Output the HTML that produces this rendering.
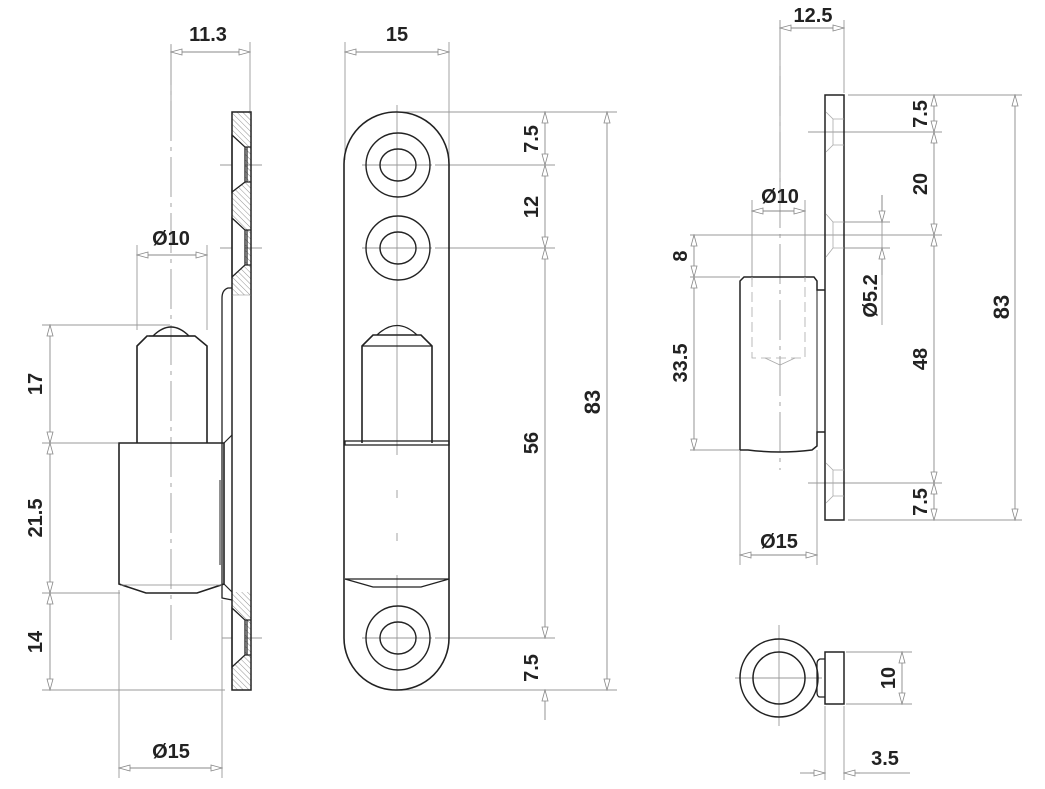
<!DOCTYPE html>
<html><head><meta charset="utf-8"><style>
html,body{margin:0;padding:0;background:#fff;}
svg{display:block;}
text{font-family:"Liberation Sans","DejaVu Sans",sans-serif;font-weight:bold;font-size:20px;fill:#222;}
</style></head><body>
<svg width="1045" height="789" viewBox="0 0 1045 789" xmlns="http://www.w3.org/2000/svg">
<defs>
<marker id="a" markerUnits="userSpaceOnUse" markerWidth="13" markerHeight="8" refX="12" refY="4" orient="auto-start-reverse">
<path d="M1,1 L12,4 L1,7 z" fill="#fff" stroke="#888" stroke-width="0.8"/>
</marker>
<pattern id="h" patternUnits="userSpaceOnUse" width="4" height="4" patternTransform="rotate(-45)">
<line x1="0" y1="0" x2="0" y2="4" stroke="#777" stroke-width="0.8"/>
</pattern>
</defs>
<rect width="1045" height="789" fill="#fff"/>

<!-- ===== LEFT VIEW ===== -->
<g fill="none" stroke="#999" stroke-width="0.9">
<line x1="171" y1="45" x2="171" y2="640" stroke-dasharray="40,6,4,6"/>
<line x1="171" y1="44" x2="171" y2="120"/>
<line x1="250" y1="42" x2="250" y2="112"/>
<line x1="137" y1="245" x2="137" y2="330"/>
<line x1="207" y1="245" x2="207" y2="330"/>
<line x1="119" y1="590" x2="119" y2="778"/>
<line x1="222" y1="600" x2="222" y2="778"/>
<line x1="42" y1="325" x2="170" y2="325"/>
<line x1="42" y1="443" x2="118" y2="443"/>
<line x1="42" y1="593" x2="120" y2="593"/>
<line x1="42" y1="690" x2="225" y2="690"/>
<line x1="220" y1="165" x2="262" y2="165"/>
<line x1="220" y1="248" x2="262" y2="248"/>
<line x1="222" y1="638" x2="262" y2="638"/>
</g>
<g stroke="#888" stroke-width="0.9" marker-start="url(#a)" marker-end="url(#a)">
<line x1="171" y1="52" x2="250" y2="52"/>
<line x1="137" y1="255" x2="207" y2="255"/>
<line x1="119" y1="768" x2="222" y2="768"/>
<line x1="50" y1="325" x2="50" y2="443"/>
<line x1="50" y1="443" x2="50" y2="593"/>
<line x1="50" y1="593" x2="50" y2="690"/>
</g>
<rect x="232" y="112" width="19" height="183" fill="url(#h)"/>
<rect x="232" y="592" width="19" height="98" fill="url(#h)"/>
<g fill="#fff" stroke="#222" stroke-width="1.3">
<polygon points="232,135 245,147 245,182 232,192"/>
<polygon points="232,218 245,230 245,265 232,277"/>
<polygon points="232,608 245,620 245,655 232,667"/>
</g>
<g stroke="#222" stroke-width="1.2" fill="none">
<line x1="247" y1="147" x2="247" y2="182"/><line x1="247" y1="230" x2="247" y2="265"/><line x1="247" y1="620" x2="247" y2="655"/>
<line x1="245" y1="147" x2="251" y2="147"/><line x1="245" y1="182" x2="251" y2="182"/>
<line x1="245" y1="230" x2="251" y2="230"/><line x1="245" y1="265" x2="251" y2="265"/>
<line x1="245" y1="620" x2="251" y2="620"/><line x1="245" y1="655" x2="251" y2="655"/>
<rect x="232" y="112" width="19" height="578" stroke-width="1.5"/>
<line x1="232" y1="295" x2="251" y2="295" stroke-width="0.6" stroke="#888"/>
<path d="M232,288 L228,288 Q222,290 222,298 L222,598 L232,600" stroke-width="1.3"/>
<line x1="220" y1="480" x2="220" y2="565" stroke-width="1"/>
<path d="M137,443 L137,346 L147,336 L195,336 L207,346 L207,443" stroke-width="1.6"/>
<line x1="149" y1="336" x2="195" y2="336" stroke-width="1.2"/>
<path d="M153,336 Q171,318 189,336" stroke-width="1.3"/>
<path d="M119,443 L119,584 L146,593 L197,593 L224,584 L224,443 Z" fill="none" stroke-width="1.6"/>
<line x1="121" y1="585" x2="222" y2="585" stroke="#888" stroke-width="0.8"/>
<line x1="224" y1="443" x2="232" y2="435"/>
<line x1="224" y1="584" x2="232" y2="592"/>
</g>
<text x="208" y="41" text-anchor="middle">11.3</text>
<text x="171" y="245" text-anchor="middle">Ø10</text>
<text x="171" y="758" text-anchor="middle">Ø15</text>
<text transform="translate(42,384) rotate(-90)" text-anchor="middle">17</text>
<text transform="translate(42,518) rotate(-90)" text-anchor="middle">21.5</text>
<text transform="translate(42,642) rotate(-90)" text-anchor="middle">14</text>

<!-- ===== MIDDLE VIEW ===== -->
<g fill="none" stroke="#999" stroke-width="0.9">
<line x1="345" y1="42" x2="345" y2="160"/>
<line x1="449" y1="42" x2="449" y2="160"/>
<line x1="397" y1="105" x2="397" y2="690"/>
<line x1="400" y1="112" x2="617" y2="112"/>
<line x1="435" y1="165" x2="555" y2="165"/>
<line x1="435" y1="248" x2="555" y2="248"/>
<line x1="435" y1="638" x2="555" y2="638"/>
<line x1="400" y1="690" x2="617" y2="690"/>
<line x1="362" y1="165" x2="432" y2="165"/>
<line x1="362" y1="248" x2="432" y2="248"/>
<line x1="362" y1="638" x2="432" y2="638"/>
</g>
<g stroke="#888" stroke-width="0.9" marker-start="url(#a)" marker-end="url(#a)">
<line x1="345" y1="52" x2="449" y2="52"/>
<line x1="545" y1="112" x2="545" y2="165"/>
<line x1="545" y1="165" x2="545" y2="248"/>
<line x1="545" y1="248" x2="545" y2="638"/>
<line x1="607" y1="112" x2="607" y2="690"/>
</g>
<g stroke="#888" stroke-width="0.9" marker-end="url(#a)">
<line x1="545" y1="720" x2="545" y2="690"/>
</g>
<g fill="none" stroke="#222" stroke-width="1.6">
<rect x="344" y="112" width="105" height="578" rx="52" ry="52"/>
<circle cx="398" cy="165" r="32" stroke-width="1.4"/>
<ellipse cx="398" cy="165" rx="18" ry="16" stroke-width="1.4"/>
<circle cx="398" cy="248" r="32" stroke-width="1.4"/>
<ellipse cx="398" cy="248" rx="18" ry="16" stroke-width="1.4"/>
<circle cx="398" cy="638" r="32" stroke-width="1.4"/>
<ellipse cx="398" cy="638" rx="18" ry="16" stroke-width="1.4"/>
<path d="M362,443 L362,346 L373,335 L421,335 L432,346 L432,443"/>
<line x1="362" y1="346" x2="432" y2="346" stroke-width="1.2"/>
<path d="M377,335 Q397,316 417,335" stroke-width="1.3"/>
<rect x="345" y="441" width="104" height="4" stroke-width="1.3"/>
<path d="M345,579 L373,587 L421,587 L449,579" stroke-width="1.3"/>
<line x1="345" y1="579" x2="449" y2="579" stroke-width="1.2"/>
</g>
<line x1="397" y1="455" x2="397" y2="575" stroke="#fff" stroke-width="3" stroke-dasharray="35,8"/>
<text x="397" y="41" text-anchor="middle">15</text>
<text transform="translate(538,139) rotate(-90)" text-anchor="middle">7.5</text>
<text transform="translate(538,207) rotate(-90)" text-anchor="middle">12</text>
<text transform="translate(538,443) rotate(-90)" text-anchor="middle">56</text>
<text transform="translate(538,668) rotate(-90)" text-anchor="middle">7.5</text>
<text transform="translate(600,402) rotate(-90)" text-anchor="middle" style="font-size:22px">83</text>

<!-- ===== RIGHT VIEW ===== -->
<g fill="none" stroke="#999" stroke-width="0.9">
<line x1="780" y1="20" x2="780" y2="470" stroke-dasharray="40,6,4,6"/>
<line x1="780" y1="20" x2="780" y2="200"/>
<line x1="844" y1="20" x2="844" y2="93"/>
<line x1="752" y1="200" x2="752" y2="280"/>
<line x1="805" y1="200" x2="805" y2="280"/>
<line x1="740" y1="450" x2="740" y2="565"/>
<line x1="817" y1="450" x2="817" y2="565"/>
<line x1="848" y1="95" x2="1022" y2="95"/>
<line x1="808" y1="132" x2="942" y2="132"/>
<line x1="690" y1="235" x2="942" y2="235"/>
<line x1="845" y1="222" x2="890" y2="222"/>
<line x1="845" y1="248" x2="890" y2="248"/>
<line x1="690" y1="277" x2="740" y2="277"/>
<line x1="690" y1="450" x2="740" y2="450"/>
<line x1="808" y1="483" x2="942" y2="483"/>
<line x1="848" y1="520" x2="1022" y2="520"/>
<line x1="882" y1="195" x2="882" y2="325"/>
</g>
<g stroke="#888" stroke-width="0.9" marker-start="url(#a)" marker-end="url(#a)">
<line x1="780" y1="28" x2="844" y2="28"/>
<line x1="752" y1="211" x2="805" y2="211"/>
<line x1="740" y1="555" x2="817" y2="555"/>
<line x1="694" y1="235" x2="694" y2="277"/>
<line x1="694" y1="277" x2="694" y2="450"/>
<line x1="934" y1="95" x2="934" y2="132"/>
<line x1="934" y1="132" x2="934" y2="235"/>
<line x1="934" y1="235" x2="934" y2="483"/>
<line x1="934" y1="483" x2="934" y2="520"/>
<line x1="1015" y1="95" x2="1015" y2="520"/>
</g>
<g stroke="#888" stroke-width="0.9" marker-end="url(#a)">
<line x1="882" y1="195" x2="882" y2="222"/>
<line x1="882" y1="275" x2="882" y2="248"/>
</g>
<g fill="none" stroke="#222" stroke-width="1.5">
<rect x="825" y="95" width="19" height="425"/>
<path d="M740,450 L740,281 L744,277 L814,277 L817,281 L817,290 L825,290 M825,432 L817,432 L817,446 L812,450 Q780,454 748,450 L740,450"/>
<line x1="817" y1="290" x2="817" y2="432" stroke-width="1"/>
</g>
<g fill="none" stroke="#aaa" stroke-width="0.8">
<path d="M752,277 L752,358 L805,358 L805,277" stroke-dasharray="10,5"/>
<path d="M765,358 L780,365 L795,358"/>
<path d="M826,112 L833,119 L844,119 M826,152 L833,145 L844,145 M833,119 L833,145"/>
<path d="M826,214 L833,222 L844,222 M826,257 L833,248 L844,248 M833,222 L833,248"/>
<path d="M826,463 L833,470 L844,470 M826,503 L833,496 L844,496 M833,470 L833,496"/>
</g>
<text x="813" y="22" text-anchor="middle">12.5</text>
<text x="780" y="203" text-anchor="middle">Ø10</text>
<text x="779" y="548" text-anchor="middle">Ø15</text>
<text transform="translate(687,256) rotate(-90)" text-anchor="middle">8</text>
<text transform="translate(687,363) rotate(-90)" text-anchor="middle">33.5</text>
<text transform="translate(877,296) rotate(-90)" text-anchor="middle">Ø5.2</text>
<text transform="translate(927,114) rotate(-90)" text-anchor="middle">7.5</text>
<text transform="translate(927,184) rotate(-90)" text-anchor="middle">20</text>
<text transform="translate(927,359) rotate(-90)" text-anchor="middle">48</text>
<text transform="translate(927,502) rotate(-90)" text-anchor="middle">7.5</text>
<text transform="translate(1009,307) rotate(-90)" text-anchor="middle" style="font-size:22px">83</text>

<!-- ===== BOTTOM RIGHT ===== -->
<g fill="none" stroke="#999" stroke-width="0.9">
<line x1="735" y1="678" x2="822" y2="678"/>
<line x1="779" y1="625" x2="779" y2="726"/>
<line x1="846" y1="652" x2="912" y2="652"/>
<line x1="846" y1="704" x2="912" y2="704"/>
<line x1="825" y1="706" x2="825" y2="780"/>
<line x1="844" y1="706" x2="844" y2="780"/>
<line x1="800" y1="773" x2="825" y2="773"/>
<line x1="844" y1="773" x2="910" y2="773"/>
</g>
<g stroke="#888" stroke-width="0.9" marker-start="url(#a)" marker-end="url(#a)">
<line x1="902" y1="652" x2="902" y2="704"/>
</g>
<g stroke="#888" stroke-width="0.9" marker-end="url(#a)">
<line x1="810" y1="773" x2="825" y2="773"/>
<line x1="860" y1="773" x2="844" y2="773"/>
</g>
<g fill="none" stroke="#222" stroke-width="1.5">
<circle cx="779" cy="678" r="39"/>
<circle cx="779" cy="678" r="26"/>
<rect x="825" y="652" width="19" height="52"/>
<path d="M825,659 L820,659 Q817,660 817,664 L817,692 Q817,697 820,697 L825,697" stroke-width="1.3"/>
</g>
<text transform="translate(895,678) rotate(-90)" text-anchor="middle">10</text>
<text x="885" y="765" text-anchor="middle">3.5</text>
</svg>
</body></html>
